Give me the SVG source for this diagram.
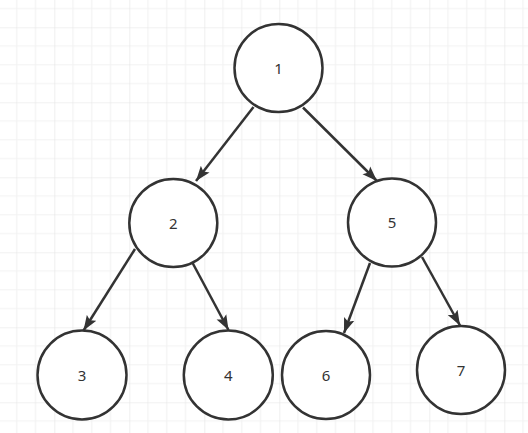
<svg xmlns="http://www.w3.org/2000/svg" width="528" height="433" viewBox="0 0 528 433">
<style>
.node circle{fill:#fff;stroke:#333;stroke-width:2.5}
.node text{font-family:"Noto Sans","Liberation Sans",sans-serif;font-size:15px;fill:#333;text-anchor:middle}
.edge{stroke:#333;stroke-width:2.5;fill:none;marker-end:url(#arr)}
</style>
<defs>
<pattern id="grid" patternUnits="userSpaceOnUse" x="54.3" y="27.3" width="75" height="75">
<path d="M18.75,0V75M37.5,0V75M56.25,0V75M0,18.75H75M0,37.5H75M0,56.25H75" stroke="#f2f2f2" stroke-width="1.2" fill="none"/>
<path d="M0,0V75M0,0H75" stroke="#e4e4e4" stroke-width="1.2" fill="none"/>
</pattern>
<marker id="arr" markerUnits="userSpaceOnUse" markerWidth="16" markerHeight="12" viewBox="0 0 16 12" refX="15" refY="6" orient="auto">
<path d="M0,0.5 L15,6 L0,11.5 L3,6 z" fill="#333"/>
</marker>
</defs>
<rect width="528" height="433" fill="#fff"/>
<rect width="528" height="433" fill="url(#grid)"/>
<g id="connectors">
<line class="edge" x1="253.5" y1="107" x2="196" y2="181"/>
<line class="edge" x1="303" y1="107.5" x2="377" y2="181"/>
<line class="edge" x1="135" y1="249" x2="83.5" y2="330.5"/>
<line class="edge" x1="191" y1="260" x2="228.5" y2="330"/>
<line class="edge" x1="370" y1="263" x2="344" y2="333"/>
<line class="edge" x1="422" y1="257" x2="460" y2="325.5"/>
</g>
<g id="node1" class="node"><circle cx="278.5" cy="68" r="44"/><text x="278.5" y="73.5">1</text></g>
<g id="node2" class="node"><circle cx="173.3" cy="223" r="44"/><text x="173.3" y="228.5">2</text></g>
<g id="node5" class="node"><circle cx="392" cy="222.5" r="44"/><text x="392" y="228">5</text></g>
<g id="node3" class="node"><circle cx="82" cy="375" r="44.5"/><text x="82" y="380.5">3</text></g>
<g id="node4" class="node"><circle cx="228.3" cy="375" r="44.5"/><text x="228.3" y="380.5">4</text></g>
<g id="node6" class="node"><circle cx="326" cy="375" r="44"/><text x="326" y="380.5">6</text></g>
<g id="node7" class="node"><circle cx="461" cy="370" r="44"/><text x="461" y="375.5">7</text></g>
</svg>
